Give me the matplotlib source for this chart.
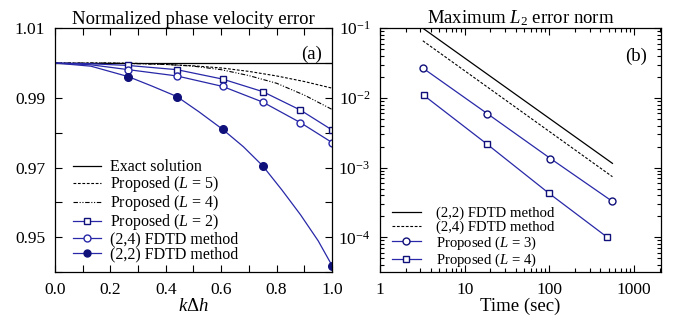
import matplotlib
matplotlib.use("Agg")
import matplotlib.pyplot as plt
from matplotlib.ticker import MultipleLocator, FixedLocator, NullFormatter, LogLocator
import numpy as np

plt.rcParams['font.family'] = ['Liberation Serif', 'DejaVu Serif']
plt.rcParams['mathtext.fontset'] = 'custom'
plt.rcParams['mathtext.rm'] = 'Liberation Serif'
plt.rcParams['mathtext.it'] = 'Liberation Serif:italic'
plt.rcParams['font.size'] = 12.5

# (a) normalized phase velocity error
k_line = [0.0, 0.1, 0.2, 0.3, 0.4, 0.5, 0.6, 0.7, 0.8, 0.9, 1.0]
exact = [1.0] * len(k_line)
prop_L5 = [1.0, 1.0, 1.0, 0.9999, 0.9996, 0.9992, 0.9986, 0.9976, 0.9963, 0.9947, 0.9928]
prop_L4 = [1.0, 1.0, 1.0, 0.9998, 0.9996, 0.9991, 0.9981, 0.9964, 0.9942, 0.9908, 0.9867]

k_mark = [0.265, 0.44, 0.605, 0.75, 0.886, 1.0]
prop_L2 = [0.9993, 0.9981, 0.9954, 0.9918, 0.9865, 0.9808]
fdtd24 = [0.9981, 0.9963, 0.9933, 0.9888, 0.9829, 0.9772]
k_mark22 = [0.265, 0.44, 0.605, 0.75, 1.0]
fdtd22 = [0.9961, 0.9904, 0.9810, 0.9705, 0.9419]
# extra points read along the curves between the markers
k_l2 = [0.0, 0.13, 0.265, 0.44, 0.605, 0.75, 0.886, 1.0]
l2_line = [1.0, 0.9998, 0.9993, 0.9981, 0.9954, 0.9918, 0.9865, 0.9808]
k_24 = [0.0, 0.13, 0.265, 0.44, 0.605, 0.75, 0.886, 1.0]
l24_line = [1.0, 0.9995, 0.9981, 0.9963, 0.9933, 0.9888, 0.9829, 0.9772]
k_22 = [0.0, 0.13, 0.265, 0.35, 0.44, 0.52, 0.605, 0.68, 0.75, 0.82, 0.886, 0.95, 1.0]
l22_line = [1.0, 0.9991, 0.9961, 0.9934, 0.9904, 0.9860, 0.9810, 0.9760, 0.9705, 0.9635, 0.9565, 0.9490, 0.9419]

# (b) maximum L2 error norm
t_fd = [3.2, 556]
err22 = [0.1, 1.15e-3]
err24 = [0.066, 7.4e-4]
t_L3 = [3.2, 18.4, 103, 556]
err_L3 = [0.0268, 5.97e-3, 1.35e-3, 3.27e-4]
t_L4 = [3.28, 18.1, 98.4, 484]
err_L4 = [0.0109, 2.2e-3, 4.3e-4, 1.0e-4]

blue = '#2828a8'
navy = '#10107a'
ms = 5

fig = plt.figure(figsize=(6.86, 3.24), dpi=100)
ax1 = fig.add_axes([0.080, 0.160, 0.404, 0.753])
ax2 = fig.add_axes([0.554, 0.160, 0.410, 0.753])

ax1.plot(k_line, exact, color='black', lw=0.9, label='Exact solution')
ax1.plot(k_line, prop_L5, color='black', lw=0.8, ls=(0, (2.5, 1.5)), label='Proposed ($L$ = 5)')
ax1.plot(k_line, prop_L4, color='black', lw=0.8, ls=(0, (4, 1.5, 1, 1.5, 1, 1.5)), label='Proposed ($L$ = 4)')
ax1.plot(k_l2, l2_line, color=blue, lw=0.9)
ax1.plot(k_24, l24_line, color=blue, lw=0.9)
ax1.plot(k_22, l22_line, color=blue, lw=0.9)
ax1.plot(k_mark, prop_L2, ls='none', marker='s', ms=ms, mfc='white', mec=navy, mew=1.0)
ax1.plot(k_mark, fdtd24, ls='none', marker='o', ms=ms, mfc='white', mec=blue, mew=1.0)
ax1.plot(k_mark22, fdtd22, ls='none', marker='o', ms=ms + 0.5, mfc=navy, mec=navy)
# legend proxies
ax1.plot([], [], color=blue, lw=0.9, marker='s', ms=ms, mfc='white', mec=navy, label='Proposed ($L$ = 2)')
ax1.plot([], [], color=blue, lw=0.9, marker='o', ms=ms, mfc='white', mec=blue, label='(2,4) FDTD method')
ax1.plot([], [], color=blue, lw=0.9, marker='o', ms=ms, mfc=navy, mec=navy, label='(2,2) FDTD method')

ax1.set_xlim(0, 1.0)
ax1.set_ylim(0.94, 1.01)
ax1.xaxis.set_minor_locator(MultipleLocator(0.1))
ax1.set_xticks([0, 0.2, 0.4, 0.6, 0.8, 1.0])
ax1.set_xticklabels(['0.0', '0.2', '0.4', '0.6', '0.8', '1.0'])
ax1.yaxis.set_major_locator(FixedLocator([0.95, 0.97, 0.99, 1.01]))
ax1.yaxis.set_minor_locator(FixedLocator([0.94, 0.96, 0.98, 1.00]))
ax1.set_yticklabels(['0.95', '0.97', '0.99', '1.01'])
ax1.set_xlabel(r'$k\Delta h$', fontsize=13.5, labelpad=0)
ax1.set_title('Normalized phase velocity error', fontsize=13.5, pad=3)
ax1.text(0.965, 0.93, '(a)', transform=ax1.transAxes, ha='right', va='top', fontsize=13.5)
ax1.legend(loc='lower left', bbox_to_anchor=(0.03, 0.0), frameon=False, fontsize=11.5,
           handlelength=1.75, handletextpad=0.6, labelspacing=-0.06, borderaxespad=0.2)

ax2.plot(t_fd, err22, color='black', lw=0.9, label='(2,2) FDTD method')
ax2.plot(t_fd, err24, color='black', lw=0.8, ls=(0, (2.5, 1.5)), label='(2,4) FDTD method')
ax2.plot(t_L3, err_L3, color=blue, lw=0.9, marker='o', ms=ms, mfc='white', mec=navy, mew=1.0,
         label='Proposed ($L$ = 3)')
ax2.plot(t_L4, err_L4, color=blue, lw=0.9, marker='s', ms=ms, mfc='white', mec=navy, mew=1.0,
         label='Proposed ($L$ = 4)')
ax2.set_xscale('log')
ax2.set_yscale('log')
ax2.set_xlim(1, 2100)
ax2.set_ylim(10 ** -4.5, 0.1)
ax2.set_xticks([1, 10, 100, 1000])
ax2.set_xticklabels(['1', '10', '100', '1000'])
ax2.set_yticks([1e-4, 1e-3, 1e-2, 1e-1])
ax2.set_yticklabels(['$10^{-4}$', '$10^{-3}$', '$10^{-2}$', '$10^{-1}$'])
ax2.xaxis.set_minor_locator(LogLocator(base=10, subs=np.arange(2, 10)))
ax2.yaxis.set_minor_locator(LogLocator(base=10, subs=np.arange(2, 10)))
ax2.xaxis.set_minor_formatter(NullFormatter())
ax2.yaxis.set_minor_formatter(NullFormatter())
ax2.set_xlabel('Time (sec)', fontsize=13.5, labelpad=0)
ax2.set_title('Maximum $L_2$ error norm', fontsize=13.5, pad=3)
ax2.text(0.95, 0.92, '(b)', transform=ax2.transAxes, ha='right', va='top', fontsize=13.5)
ax2.legend(loc='lower left', bbox_to_anchor=(0.01, -0.025), frameon=False, fontsize=10.6,
           handlelength=2.0, handletextpad=1.0, labelspacing=0.03, borderaxespad=0.2)

for ax in (ax1, ax2):
    ax.tick_params(which='both', direction='in', top=True, right=True, width=0.8)
    ax.tick_params(which='major', length=5)
    ax.tick_params(which='minor', length=5)
    ax.tick_params(axis='x', pad=7)
    ax.tick_params(axis='y', pad=7)
    for s in ax.spines.values():
        s.set_linewidth(0.9)
ax2.tick_params(which='minor', length=3)

fig.savefig('out.png', dpi=100)
